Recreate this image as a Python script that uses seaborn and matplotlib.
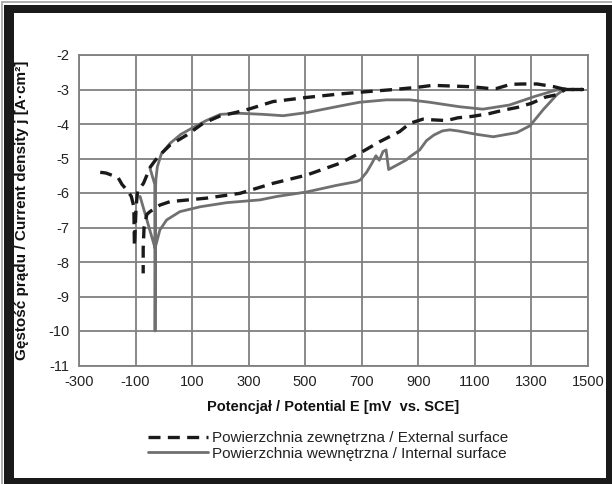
import numpy as np
import pandas as pd
import matplotlib
matplotlib.use("Agg")
import matplotlib.pyplot as plt
from matplotlib.patches import Rectangle
import seaborn as sns

# External surface (dashed) – potential [mV] and log current density
ext_E = [-225, -205, -162, -148, -127, -115, -106, -105, -104, -98, -93, -72, -48, -30,
         -14, 22, 81, 139, 198, 257, 304, 386, 505, 622, 692, 799, 893, 950, 1020,
         1090, 1150, 1177, 1226, 1270, 1320, 1380, 1420, 1480, 1420, 1390, 1350, 1300,
         1250, 1200, 1150, 1090, 1040, 1000, 951, 916, 870, 834, 764, 692, 622, 505,
         386, 269, 150, 22, -14, -49, -60, -70, -73, -73]
ext_j = [-5.40, -5.42, -5.55, -5.75, -5.95, -6.10, -6.40, -7.00, -7.55, -6.40, -5.95,
         -5.72, -5.25, -5.05, -4.90, -4.61, -4.32, -3.98, -3.77, -3.66, -3.56, -3.35,
         -3.23, -3.13, -3.08, -3.01, -2.94, -2.88, -2.90, -2.92, -2.97, -2.97, -2.85,
         -2.84, -2.84, -2.92, -3.00, -3.00, -3.00, -3.15, -3.22, -3.40, -3.52, -3.60,
         -3.70, -3.78, -3.82, -3.90, -3.88, -3.86, -3.98, -4.22, -4.51, -4.85, -5.14,
         -5.48, -5.72, -6.01, -6.15, -6.25, -6.35, -6.54, -6.62, -7.00, -7.60, -8.33]

# Internal surface (solid)
int_E = [-49, -32, -31, -31, -30, -28, -23, -8, 22, 60, 104, 150, 200, 269, 350, 422,
         505, 622, 692, 787, 870, 940, 1046, 1128, 1222, 1312, 1382, 1420, 1390, 1342,
         1295, 1248, 1165, 1106, 1040, 1011, 985, 955, 929, 905, 870, 858, 795, 786,
         775, 762, 750, 735, 717, 695, 681, 610, 505, 400, 340, 222, 128, 57, 10, -14,
         -31, -84]
int_j = [-5.28, -5.75, -8.00, -10.00, -6.00, -5.60, -5.24, -4.85, -4.56, -4.30, -4.10,
         -3.90, -3.72, -3.69, -3.72, -3.76, -3.67, -3.48, -3.37, -3.30, -3.30, -3.37,
         -3.50, -3.57, -3.45, -3.20, -3.03, -2.97, -3.15, -3.58, -4.05, -4.25, -4.37,
         -4.30, -4.20, -4.17, -4.20, -4.32, -4.48, -4.75, -4.95, -5.04, -5.32, -4.75,
         -4.80, -5.05, -4.92, -5.15, -5.40, -5.62, -5.67, -5.78, -5.97, -6.10, -6.20,
         -6.28, -6.40, -6.54, -6.78, -7.07, -7.60, -6.10]

x_ticks = list(range(-300, 1501, 200))
y_ticks = list(range(-11, -1))

ext_label = "Powierzchnia zewnętrzna / External surface"
int_label = "Powierzchnia wewnętrzna / Internal surface"
x_label = "Potencjał / Potential E [mV  vs. SCE]"
y_label = "Gęstość prądu / Current density j [A·cm²]"

sns.set_style("white")
plt.rcParams['font.family'] = ['Liberation Sans', 'DejaVu Sans']

W, H = 612, 484
fig = plt.figure(figsize=(W / 100, H / 100), dpi=100)
ax = fig.add_axes([79 / W, 1 - 365.5 / H, (588 - 79) / W, (365.5 - 55) / H])

df_ext = pd.DataFrame({"E": ext_E, "j": ext_j})
df_int = pd.DataFrame({"E": int_E, "j": int_j})

sns.lineplot(data=df_int, x="E", y="j", sort=False, estimator=None, ax=ax,
             color="#707070", linewidth=2.0, label=int_label, zorder=3)
sns.lineplot(data=df_ext, x="E", y="j", sort=False, estimator=None, ax=ax,
             color="#1a1a1a", linewidth=2.4, linestyle=(0, (3.6, 2.2)),
             label=ext_label, zorder=4)

ax.set_xlim(-300, 1500)
ax.set_ylim(-11, -2)
ax.set_xticks(x_ticks)
ax.set_yticks(y_ticks)
ax.set_xticklabels([str(v) for v in x_ticks], fontsize=10.5)
ax.set_yticklabels([str(v) for v in y_ticks], fontsize=10.5)
ax.grid(True, color="#808080", linewidth=1.3)
for s in ax.spines.values():
    s.set_color("#808080")
    s.set_linewidth(1.3)
ax.tick_params(axis="both", direction="out", length=4, width=1.2, color="#808080",
               pad=3, labelcolor="#222222")

ax.set_xlabel(x_label, fontsize=10.5, fontweight="bold", color="#111111")
ax.set_ylabel(y_label, fontsize=11, fontweight="bold", color="#111111")
ax.xaxis.set_label_coords(0.5, -0.11)
ax.yaxis.set_label_coords(-0.098, 0.5)

handles, labels = ax.get_legend_handles_labels()
ax.get_legend().remove()
order = [labels.index(ext_label), labels.index(int_label)]
fig.legend([handles[i] for i in order], [labels[i] for i in order],
           loc="center left", bbox_to_anchor=(142 / W, 1 - 446 / H),
           frameon=False, fontsize=11, handlelength=3.9, handletextpad=0.3,
           labelspacing=0.1, borderaxespad=0, labelcolor="#222222")

# black frame around figure
def frect(x0, y0, x1, y1, color):
    fig.add_artist(Rectangle((x0 / W, 1 - y1 / H), (x1 - x0) / W, (y1 - y0) / H,
                             transform=fig.transFigure, facecolor=color,
                             edgecolor="none", zorder=10))

frect(4, 5, 14, 484, "#1a1a1a")
frect(4, 5, 612, 13, "#1a1a1a")
frect(606, 5, 612, 484, "#1a1a1a")
frect(4, 478, 612, 484, "#1a1a1a")
frect(1, 1, 612, 2.5, "#b0b0b0")
frect(1, 1, 2.5, 484, "#b0b0b0")

fig.savefig("out.png", dpi=100)
